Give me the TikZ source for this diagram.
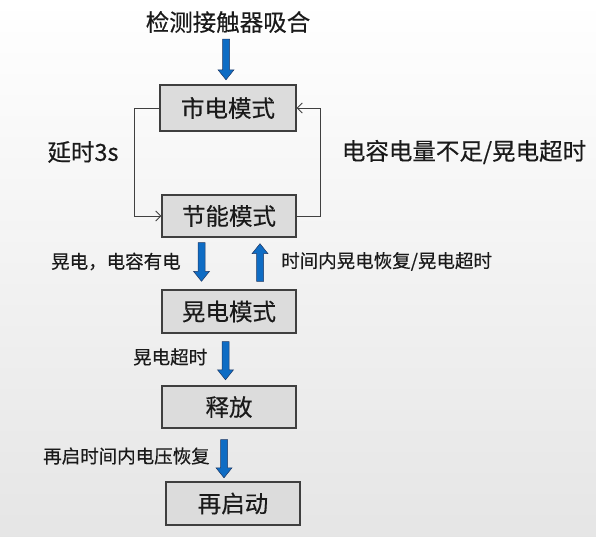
\documentclass[tikz,border=0pt]{standalone}
\usepackage{fontspec}
\setmainfont{Noto Sans CJK SC}[FakeBold=0.35]
\usetikzlibrary{arrows.meta,calc}
\definecolor{boxfill}{HTML}{DCDCDC}
\definecolor{boxline}{HTML}{3F3F3F}
\definecolor{arrblue}{HTML}{0E6CC4}
\definecolor{arrline}{HTML}{1F3864}
\definecolor{loopline}{HTML}{404040}
\definecolor{txt}{HTML}{1A1A1A}
\tikzset{
  modebox/.style={draw=boxline, line width=1.4pt, fill=boxfill, minimum width=134pt, minimum height=43pt, inner sep=0pt, text=txt, font=\fontsize{23.5}{28}\selectfont},
  bigtext/.style={inner sep=0pt, text=txt, font=\fontsize{23.5}{28}\selectfont},
  smalltext/.style={inner sep=0pt, text=txt, font=\fontsize{18.5}{22}\selectfont, anchor=west},
  looparrow/.style={draw=loopline, line width=0.9pt, -{Straight Barb[length=5pt,width=10pt]}},
  darrow/.style={fill=arrblue, draw=arrline, line width=0.5pt,
    to path={let \p1=(\tikztostart), \p2=(\tikztotarget) in
      (\x1-3.5pt,\y1) -- (\x1+3.5pt,\y1) -- (\x1+3.5pt,\y2+10pt) -- (\x1+8pt,\y2+10pt)
      -- (\x1,\y2) -- (\x1-8pt,\y2+10pt) -- (\x1-3.5pt,\y2+10pt) -- cycle}},
  uarrow/.style={fill=arrblue, draw=arrline, line width=0.5pt,
    to path={let \p1=(\tikztostart), \p2=(\tikztotarget) in
      (\x1-3.5pt,\y1) -- (\x1+3.5pt,\y1) -- (\x1+3.5pt,\y2-10pt) -- (\x1+8pt,\y2-10pt)
      -- (\x1,\y2) -- (\x1-8pt,\y2-10pt) -- (\x1-3.5pt,\y2-10pt) -- cycle}}
}
\begin{document}
\begin{tikzpicture}[x=1pt,y=-1pt]
\useasboundingbox (0,0) rectangle (596,536);
\shade[top color=white, bottom color=black!10] (0,0) rectangle (596,536);

\node[bigtext] (title) at (228,22) {检测接触器吸合};
\node[modebox, minimum width=136pt, minimum height=46pt] (m1) at (228,108) {市电模式};
\node[modebox, minimum height=42pt] (m2) at (229,216) {节能模式};
\node[modebox] (m3) at (229,311.5) {晃电模式};
\node[modebox, minimum height=42pt] (m4) at (229,407) {释放};
\node[modebox] (m5) at (233,503.5) {再启动};

\node[bigtext] (l1) at (83,152) {延时3s};
\node[bigtext] (l2) at (464,152) {电容电量不足/晃电超时};
\node[smalltext] (l3) at (51,261.5) {晃电，电容有电};
\node[smalltext] (l4) at (281,261.5) {时间内晃电恢复/晃电超时};
\node[smalltext] (l5) at (133,357) {晃电超时};
\node[smalltext] (l6) at (43,456) {再启时间内电压恢复};

% loops
\draw[looparrow] (m1.west) -- ++(-25,0) |- (m2.west);
\draw[looparrow] (m2.east) -- ++(24,0) |- (m1.east);

% block arrows
\path[darrow] ([xshift=-2pt,yshift=-6pt]title.south) to ([xshift=-2pt,yshift=4.5pt]m1.north);
\path[darrow] ([xshift=-27.5pt,yshift=-5pt]m2.south) to ([xshift=-27.5pt,yshift=8pt]m3.north);
\path[uarrow] ([xshift=31pt,yshift=8pt]m3.north) to ([xshift=31pt,yshift=-6pt]m2.south);
\path[darrow] ([xshift=-3.5pt,yshift=-8pt]m3.south) to ([xshift=-3.5pt,yshift=5.5pt]m4.north);
\path[darrow] ([xshift=-5pt,yshift=-11pt]m4.south) to ([xshift=-9pt,yshift=3.5pt]m5.north);
\end{tikzpicture}
\end{document}
